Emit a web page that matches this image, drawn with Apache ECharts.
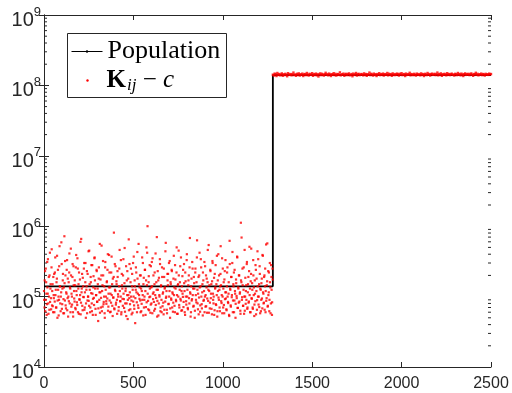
<!DOCTYPE html>
<html>
<head>
<meta charset="utf-8">
<script src="https://cdn.jsdelivr.net/npm/echarts@6/dist/echarts.min.js"></script>
<style>
	html, body { margin: 0; padding: 0; background: #fff; }
	#chart { width: 512px; height: 393px; }
</style>
</head>
<body>
<div id="chart"></div>
<script>
// x-ticks and log decades
const X_TICKS = [0, 500, 1000, 1500, 2000, 2500]
const MINOR_MULT = [2, 3, 4, 5, 6, 7, 8, 9]
const MINOR_DECADES = [1e4, 1e5, 1e6, 1e7, 1e8]

// Population curve (step at iteration 1280)
const POP_X = [0, 1280, 1280, 2500]
const POP_Y = [1.4e5, 1.4e5, 1.4e8, 1.4e8]

// K_ij - c samples, phase 1, values in units of 1e5
// set A at x = 0,3,6..., set B at x = 1,4,7...
const LEFT_STEP = 3
const LEFT_VALS_A = [
	1.2,0.7,2.3,0.9,1.6,0.55,3.1,1.1,0.8,1.9,0.65,4.2,1.3,0.95,2.6,0.75,1.5,0.6,1.05,2.1,
	0.85,3.6,1.25,0.7,1.8,0.5,2.4,1.0,0.9,5.2,1.4,0.62,1.15,2.9,0.78,1.7,0.58,1.35,7.2,0.88,
	2.0,0.68,1.1,3.3,0.95,0.52,1.6,2.2,0.8,1.3,4.8,0.72,1.0,1.9,0.6,2.7,1.2,0.85,1.45,0.66,
	3.9,1.05,0.76,2.5,1.3,0.57,0.92,1.75,6.0,0.82,1.15,2.1,0.64,1.4,0.98,3.0,0.7,1.6,0.5,1.25,
	2.3,0.88,1.0,4.4,0.74,1.5,0.6,1.9,1.12,0.8,2.8,0.55,1.35,0.96,3.5,1.7,0.67,1.05,2.4,0.84,
	1.3,0.45,1.8,0.9,5.6,1.15,0.7,2.0,0.62,1.45,3.2,0.78,1.0,0.58,2.6,1.25,0.86,1.6,0.94,4.0,
	0.72,1.35,2.2,0.6,1.1,0.82,3.7,1.5,0.53,0.97,1.9,0.68,2.9,1.2,0.77,1.65,0.9,2.3,1.08,0.63,
	1.4,4.6,0.86,1.0,0.56,2.1,1.3,0.74,3.4,0.92,1.55,0.61,1.2,2.7,0.8,1.05,0.48,1.8,6.5,0.95,
	1.15,0.66,2.5,0.88,1.4,0.59,3.0,1.0,0.75,1.7,0.42,1.25,2.2,0.83,4.3,1.1,0.69,1.5,0.93,2.0,
	0.6,1.3,0.79,3.6,1.05,0.54,1.85,0.9,2.4,1.2,0.71,5.0,1.45,10.0,0.87,1.6,0.64,2.8,1.0,0.77,
	1.35,3.1,0.58,1.1,2.0,0.84,1.5,0.67,4.1,0.96,1.25,0.52,2.3,1.7,0.8,1.05,3.4,0.62,1.4,0.9,
	2.6,0.73,1.15,0.56,1.9,1.3,0.85,5.8,1.0,0.65,2.1,1.45,0.78,3.0,1.2,0.5,1.6,0.94,2.4,0.7,
	1.1,0.82,3.8,1.35,0.6,1.75,0.9,2.2,1.05,0.57,1.5,4.5,0.76,1.25,2.7,0.88,0.63,1.4,1.95,0.99,
	0.71,2.9,1.2,0.55,1.65,0.86,3.3,1.0,0.69,1.45,2.0,0.8,6.8,1.1,0.6,1.8,0.92,2.5,1.3,0.74,
	1.55,0.5,2.2,1.05,0.83,3.6,1.25,0.66,1.9,0.97,4.2,0.61,1.4,2.6,0.78,1.15,0.54,1.7,0.9,3.1,
	1.0,0.72,2.0,1.35,0.59,1.6,0.87,5.4,1.2,0.68,2.4,0.95,1.5,0.56,3.2,1.1,0.8,1.85,0.64,1.3,
	2.8,0.76,1.05,0.52,1.7,4.0,0.9,1.25,0.62,2.1,1.45,0.81,3.5,1.0,0.7,1.6,0.58,2.3,1.15,0.94,
	0.66,1.4,2.6,0.84,1.1,0.55,6.2,1.3,0.75,1.9,0.98,3.0,0.6,1.5,2.2,0.88,1.2,0.5,1.75,1.02,
	3.7,0.69,1.35,0.82,2.0,1.1,0.63,11.2,1.6,0.9,2.5,0.74,1.25,0.57,4.6,1.0,0.79,1.45,2.9,0.67,
	1.15,1.9,0.85,5.1,1.3,0.6,2.1,0.95,1.55,0.7,3.3,1.05,0.53,1.7,0.86,2.4,1.2,0.65,4.4,1.0,
	0.77,1.5,2.7,0.58,1.25,0.9,1.8,0.68,3.8,1.1,0.82,2.0,1.4,0.6,5.5,0.95,1.65,0.72,2.3,1.15,
	0.62,3.0,1.35,0.8,1.9,0.55,2.5
]
const LEFT_VALS_B = [
	0.9,1.7,0.62,2.5,1.1,0.78,1.35,3.4,0.57,1.0,2.0,0.84,1.5,0.66,4.7,1.2,0.73,1.9,0.95,0.6,
	2.2,1.05,0.7,1.6,3.8,0.88,1.25,0.54,2.7,1.4,0.8,1.0,5.9,0.67,1.3,2.1,0.92,0.58,1.55,3.2,
	0.75,1.15,2.4,0.64,1.8,1.0,0.86,4.1,1.35,0.6,2.0,1.1,0.77,2.9,0.52,1.45,0.94,1.7,0.69,2.6,
	1.2,0.83,3.5,0.6,1.5,2.2,0.9,1.05,0.56,6.6,1.3,0.74,1.85,0.99,2.5,0.65,1.15,3.0,0.8,1.4,
	0.58,2.1,1.0,0.87,4.5,1.25,0.7,1.6,2.8,0.62,1.1,0.93,1.95,0.76,3.6,1.3,0.55,1.05,2.3,0.85,
	1.5,0.68,2.6,1.15,0.59,1.75,0.96,5.3,1.2,0.72,2.0,0.84,1.4,0.5,3.1,1.0,0.79,1.65,2.4,0.63,
	1.1,3.9,0.88,1.35,0.61,2.2,1.05,0.74,1.8,0.97,8.1,0.66,1.25,2.7,0.82,1.5,0.57,1.9,1.0,0.71,
	2.5,1.2,0.86,3.3,0.6,1.45,0.93,2.0,1.1,0.69,4.9,0.8,1.3,0.53,1.7,2.3,0.9,1.05,0.64,2.9,
	0.78,1.6,1.0,0.56,2.1,1.25,0.85,3.7,0.67,1.4,0.95,2.6,1.15,0.6,1.8,0.75,5.6,1.05,1.35,0.88,
	2.0,0.62,1.2,0.9,3.0,1.5,0.7,1.0,2.4,0.55,1.7,0.83,4.2,1.1,0.66,1.95,0.98,1.3,0.59,2.7,
	0.8,1.4,3.5,0.92,1.15,0.63,2.2,1.05,0.76,1.6,7.0,0.87,1.25,0.54,1.85,1.0,2.9,0.7,1.45,0.6,
	1.9,1.1,0.82,2.5,0.65,1.35,4.4,0.96,1.2,0.58,1.7,2.1,0.79,1.0,3.2,0.68,1.5,0.9,2.3,1.15,
	0.61,1.8,1.05,0.74,2.8,1.3,0.86,5.0,0.57,1.45,1.0,2.0,0.7,1.6,0.93,3.6,1.2,0.64,1.1,2.4,
	0.84,1.55,0.6,2.2,1.0,0.77,4.0,1.25,0.66,1.7,0.95,2.6,1.15,0.52,1.4,0.88,3.1,1.05,0.72,1.9,
	1.3,0.63,2.5,0.9,1.6,6.3,0.8,1.1,0.56,2.0,1.35,0.75,3.4,1.0,0.68,1.5,2.2,0.87,1.2,0.6,
	2.7,1.05,0.73,1.8,0.94,4.6,1.25,0.59,1.45,0.82,2.3,1.1,0.67,1.65,3.0,0.9,1.0,0.55,2.1,1.35,
	0.78,1.5,3.8,0.62,1.2,0.97,2.0,0.7,1.4,5.2,0.86,1.05,0.58,2.5,1.3,0.76,1.75,0.92,3.3,1.15,
	0.64,2.2,1.0,0.81,1.6,0.53,2.9,1.25,0.72,1.9,1.05,4.3,0.88,1.4,0.6,2.4,1.1,0.79,1.55,0.95,
	3.6,0.69,1.3,2.0,0.85,1.15,0.57,1.7,6.9,0.98,1.45,0.74,2.6,1.0,0.63,1.85,1.2,0.9,3.1,0.7,
	1.5,0.82,2.3,1.05,0.6,1.65,4.8,0.93,1.25,0.67,2.0,1.35,0.77,1.1,2.8,0.56,1.8,0.89,1.4,3.4,
	1.0,0.71,2.1,1.3,0.62,1.55,0.94,3.9,1.15,0.8,1.9,0.65,2.5,1.2,0.87,1.45,5.7,0.74,1.05,2.2,
	0.9,1.6,0.58,2.8,1.25,0.83,1.75
]
const LEFT_UNIT = 1e5

// phase 2 (x = 1280..2500 every 5), values in units of 1e8
const RIGHT_START = 1280
const RIGHT_STEP = 5
const RIGHT_VALS = [
	1.42,1.38,1.47,1.44,1.36,1.5,1.41,1.45,1.39,1.43,1.48,1.37,1.44,1.4,1.46,1.42,1.35,1.49,1.43,1.41,
	1.45,1.39,1.44,1.52,1.4,1.43,1.37,1.46,1.42,1.48,1.38,1.44,1.41,1.47,1.36,1.43,1.45,1.4,1.5,1.42,
	1.38,1.46,1.43,1.41,1.49,1.37,1.44,1.42,1.47,1.39,1.45,1.34,1.43,1.48,1.4,1.46,1.42,1.38,1.44,1.51,
	1.41,1.45,1.39,1.47,1.43,1.36,1.44,1.42,1.49,1.4,1.46,1.38,1.43,1.45,1.41,1.53,1.39,1.44,1.42,1.47,
	1.37,1.43,1.46,1.4,1.44,1.48,1.39,1.42,1.45,1.35,1.47,1.41,1.43,1.5,1.38,1.44,1.46,1.4,1.42,1.45,
	1.43,1.39,1.48,1.41,1.45,1.37,1.44,1.42,1.52,1.4,1.46,1.43,1.38,1.47,1.41,1.44,1.36,1.45,1.42,1.49,
	1.4,1.44,1.42,1.47,1.38,1.45,1.43,1.41,1.5,1.39,1.46,1.42,1.44,1.37,1.48,1.43,1.4,1.45,1.41,1.47,
	1.44,1.38,1.46,1.42,1.49,1.4,1.43,1.45,1.36,1.47,1.41,1.44,1.42,1.51,1.39,1.45,1.43,1.4,1.46,1.42,
	1.38,1.47,1.43,1.41,1.45,1.39,1.48,1.42,1.44,1.36,1.46,1.43,1.4,1.5,1.42,1.45,1.38,1.44,1.47,1.41,
	1.43,1.46,1.4,1.44,1.52,1.39,1.45,1.42,1.48,1.37,1.44,1.41,1.46,1.43,1.39,1.49,1.42,1.45,1.4,1.44,
	1.47,1.41,1.43,1.38,1.46,1.44,1.4,1.5,1.42,1.45,1.39,1.47,1.43,1.36,1.44,1.48,1.41,1.45,1.42,1.46,
	1.4,1.44,1.48,1.42,1.37,1.45,1.43,1.51,1.41,1.46,1.39,1.44,1.42,1.47,1.4,1.45,1.43,1.38,1.46,1.42,
	1.44,1.41,1.47,1.43,1.45
]
const RIGHT_UNIT = 1e8

const AXIS_COLOR = '#262626'
const SANS = '"Liberation Sans", Arial, Helvetica, sans-serif'
const SERIF = '"Liberation Serif", "Times New Roman", serif'

const popData = POP_X.map((x, i) => [x, POP_Y[i]])
const leftData = LEFT_VALS_A.map((v, i) => [i * LEFT_STEP, v * LEFT_UNIT])
	.concat(LEFT_VALS_B.map((v, i) => [1 + i * LEFT_STEP, v * LEFT_UNIT]))
const rightData = RIGHT_VALS.map((v, i) => [RIGHT_START + i * RIGHT_STEP, v * RIGHT_UNIT])
const minorTicks = []
MINOR_DECADES.forEach(d => MINOR_MULT.forEach(m => minorTicks.push([0, m * d])))

const chart = echarts.init(document.getElementById('chart'), null, { renderer: 'canvas' })

const xCommon = {
	type: 'value', min: X_TICKS[0], max: X_TICKS[X_TICKS.length - 1], interval: 500,
	axisLine: { show: true, lineStyle: { color: AXIS_COLOR, width: 1 } },
	axisTick: { show: true, inside: true, length: 5, lineStyle: { color: AXIS_COLOR } },
	splitLine: { show: false }
}
const yCommon = {
	type: 'log', logBase: 10, min: 1e4, max: 1e9, splitNumber: 5,
	axisLine: { show: true, lineStyle: { color: AXIS_COLOR, width: 1 } },
	axisTick: { show: true, inside: true, length: 5, lineStyle: { color: AXIS_COLOR } },
	splitLine: { show: false }
}

const opt = {
	backgroundColor: '#fff',
	animation: false,
	grid: { left: 44, right: 21, top: 15, bottom: 26 },
	xAxis: [
		{
			...xCommon, position: 'bottom',
			axisLabel: { fontSize: 16, color: AXIS_COLOR, fontFamily: SANS, margin: 9, formatter: v => String(v) }
		},
		{ ...xCommon, position: 'top', axisLabel: { show: false } }
	],
	yAxis: [
		{
			...yCommon, position: 'left',
			axisLabel: {
				margin: 3,
				formatter: v => '{b|10}{e|' + Math.round(Math.log10(v)) + '}',
				rich: {
					b: { fontSize: 20, color: AXIS_COLOR, fontFamily: SANS, padding: [11, 0, 0, 0] },
					e: { fontSize: 13, color: AXIS_COLOR, fontFamily: SANS, padding: [0, 0, 6, 0] }
				}
			}
		},
		{ ...yCommon, position: 'right', axisLabel: { show: false } }
	],
	series: [
		{
			// log minor ticks, both sides
			type: 'custom', silent: true, z: 1,
			data: minorTicks,
			renderItem: (params, api) => {
				const v = api.value(1)
				const l = api.coord([X_TICKS[0], v])
				const r = api.coord([X_TICKS[X_TICKS.length - 1], v])
				const st = { stroke: AXIS_COLOR, lineWidth: 1 }
				return {
					type: 'group', children: [
						{ type: 'line', shape: { x1: l[0], y1: l[1], x2: l[0] + 3, y2: l[1] }, style: st },
						{ type: 'line', shape: { x1: r[0] - 3, y1: r[1], x2: r[0], y2: r[1] }, style: st }
					]
				}
			}
		},
		{
			name: 'Population', type: 'line', z: 2,
			data: popData, showSymbol: false,
			lineStyle: { color: '#000', width: 1.8 }, itemStyle: { color: '#000' }
		},
		{
			name: 'Kij - c', type: 'scatter', z: 3,
			data: leftData, symbol: 'rect', symbolSize: 2.2,
			itemStyle: { color: '#ff0000' }
		},
		{
			name: 'Kij - c (2)', type: 'scatter', z: 3,
			data: rightData, symbol: 'rect', symbolSize: 2.4,
			itemStyle: { color: '#ff0000' }
		}
	],
	graphic: [
		{
			type: 'group', left: 67, top: 33, z: 100,
			children: [
				{ type: 'rect', shape: { x: 0, y: 0, width: 159, height: 64 }, style: { fill: '#fff', stroke: AXIS_COLOR, lineWidth: 1 } },
				{ type: 'line', shape: { x1: 4, y1: 18, x2: 35, y2: 18 }, style: { stroke: '#000', lineWidth: 1 } },
				{ type: 'circle', shape: { cx: 19.5, cy: 18, r: 1.2 }, style: { fill: '#000' } },
				{ type: 'text', x: 40, y: 18, style: { text: 'Population', font: '26px ' + SERIF, fill: '#000', verticalAlign: 'middle' } },
				{ type: 'circle', shape: { cx: 20, cy: 47, r: 1.2 }, style: { fill: '#ff0000' } },
				{
					type: 'text', x: 39, y: 47,
					style: {
						text: '{k|K}{s|ij}{m| − }{c|c}', verticalAlign: 'middle', fill: '#000',
						rich: {
							k: { font: 'bold 25px ' + SERIF, fill: '#000' },
							s: { font: 'italic 17px ' + SERIF, fill: '#000', padding: [10, 0, 0, 1] },
							m: { font: '25px ' + SERIF, fill: '#000' },
							c: { font: 'italic 25px ' + SERIF, fill: '#000' }
						}
					}
				}
			]
		}
	]
}

chart.setOption(opt)
</script>
</body>
</html>
